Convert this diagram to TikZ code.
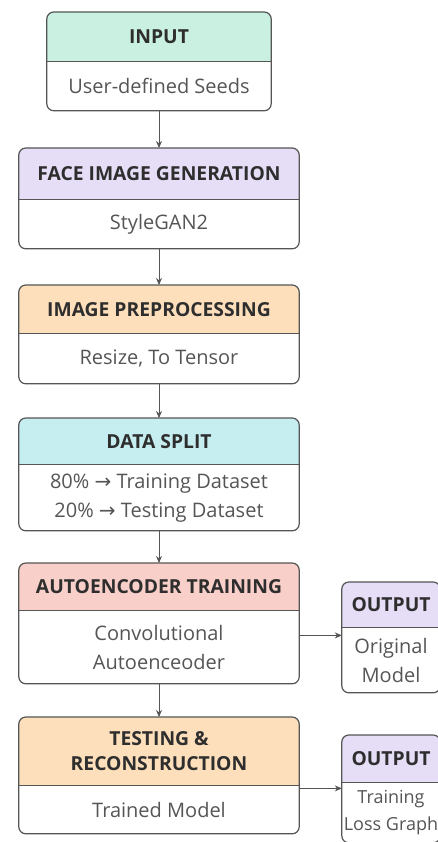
\documentclass[tikz,border=0pt]{standalone}
\usepackage{fontspec}
\setmainfont{Open Sans}
\newfontfamily\arrowfont{DejaVu Sans}
\usetikzlibrary{positioning,backgrounds,arrows.meta}

\definecolor{mint}{HTML}{C9F0E0}
\definecolor{lilac}{HTML}{E6DDF7}
\definecolor{peach}{HTML}{FDDFBC}
\definecolor{aqua}{HTML}{C6EEF0}
\definecolor{rose}{HTML}{F9D0C9}
\definecolor{linecol}{HTML}{555555}
\definecolor{hdrtext}{HTML}{2E2E2E}
\definecolor{bodytext}{HTML}{555555}

\tikzset{
  hdr/.style={minimum width=#1, inner sep=0pt, align=center,
    font=\bfseries\fontsize{19.3}{25}\selectfont, text=hdrtext},
  bdy/.style={minimum width=#1, inner sep=0pt, align=center,
    font=\fontsize{20}{29}\selectfont, text=bodytext},
  frame/.style={draw=linecol, line width=1.2pt, rounded corners=7pt},
  divider/.style={draw=linecol, line width=1.2pt},
  link/.style={draw=linecol, line width=0.8pt, -{Stealth[length=7pt,width=6pt]}}
}

\begin{document}
\begin{tikzpicture}[x=1pt,y=-1pt]
  \useasboundingbox (0,0) rectangle (438,842);

  % main column
  \node[hdr=224pt, minimum height=49pt, anchor=north] (inh) at (159,12) {INPUT};
  \node[bdy=224pt, minimum height=49pt, below=0pt of inh] (inb) {User-defined Seeds};

  \node[hdr=280pt, minimum height=51pt, anchor=north] (faceh) at (159,148) {FACE IMAGE GENERATION};
  \node[bdy=280pt, minimum height=49pt, below=0pt of faceh] (faceb) {StyleGAN2};

  \node[hdr=280pt, minimum height=48pt, anchor=north] (preph) at (159,285) {IMAGE PREPROCESSING};
  \node[bdy=280pt, minimum height=50pt, below=0pt of preph] (prepb) {Resize, To Tensor};

  \node[hdr=280pt, minimum height=46pt, anchor=north] (splith) at (159,418) {DATA SPLIT};
  \node[bdy=280pt, minimum height=66pt, below=0pt of splith] (splitb)
    {80\% {\arrowfont →} Training Dataset\\20\% {\arrowfont →} Testing Dataset};

  \node[hdr=280pt, minimum height=47pt, anchor=north] (aeh) at (159,563) {AUTOENCODER TRAINING};
  \node[bdy=280pt, minimum height=73pt, below=0pt of aeh] (aeb) {Convolutional\\Autoenceoder};

  \node[hdr=280pt, minimum height=68pt, anchor=north] (testh) at (159,717) {TESTING \&\\RECONSTRUCTION};
  \node[bdy=280pt, minimum height=48pt, below=0pt of testh] (testb) {Trained Model};

  % outputs
  \node[hdr=98pt, minimum height=45pt, anchor=north] (o1h) at (391,582) {OUTPUT};
  \node[bdy=98pt, minimum height=65pt, below=0pt of o1h] (o1b) {Original\\Model};

  \node[hdr=98pt, minimum height=47pt, anchor=north] (o2h) at (391,735) {OUTPUT};
  \node[bdy=98pt, minimum height=60pt, below=0pt of o2h, font=\fontsize{18}{27}\selectfont] (o2b) {Training\\Loss Graph};

  % header fills, frames
  \foreach \s/\c in {in/mint,face/lilac,prep/peach,split/aqua,ae/rose,test/peach,o1/lilac,o2/lilac}{
    \begin{pgfonlayer}{background}
      \begin{scope}
        \clip[rounded corners=7pt] (\s h.north west) rectangle (\s b.south east);
        \fill[\c] (\s h.north west) rectangle (\s h.south east);
      \end{scope}
    \end{pgfonlayer}
    \draw[frame] (\s h.north west) rectangle (\s b.south east);
    \draw[divider] (\s h.south west) -- (\s h.south east);
  }

  % connectors
  \draw[link] (inb.south) -- (faceh.north);
  \draw[link] (faceb.south) -- (preph.north);
  \draw[link] (prepb.south) -- (splith.north);
  \draw[link] (splitb.south) -- (aeh.north);
  \draw[link] (aeb.south) -- (testh.north);
  \draw[link] ([yshift=-8pt]o1h.south west -| aeb.east) -- ([yshift=-8pt]o1h.south west);
  \draw[link] ([yshift=-6pt]o2h.south west -| testb.east) -- ([yshift=-6pt]o2h.south west);
\end{tikzpicture}
\end{document}
